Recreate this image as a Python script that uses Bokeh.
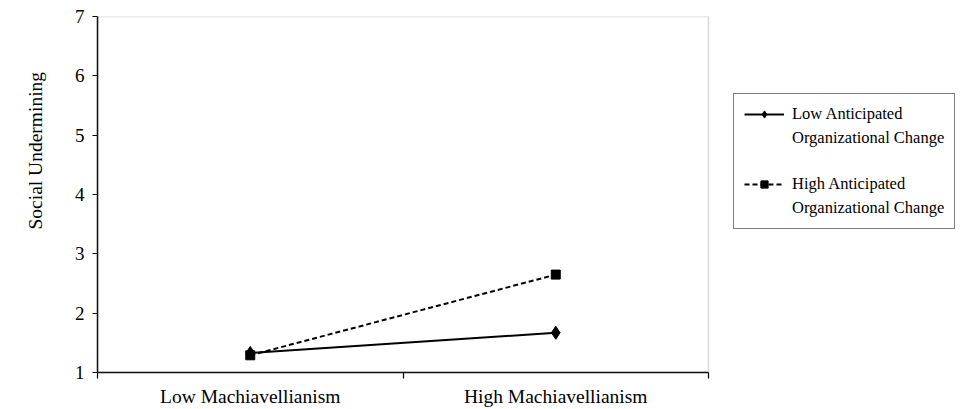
from bokeh.plotting import figure
from bokeh.models import FixedTicker, Legend, LegendItem, Range1d, BoxAnnotation, Title
from bokeh.embed import file_html
from bokeh.resources import INLINE

# ---- data ----
categories = ["Low Machiavellianism", "High Machiavellianism"]
low_aoc = [1.33, 1.67]
high_aoc = [1.29, 2.65]
y_ticks = [1, 2, 3, 4, 5, 6, 7]
series_names = ["Low Anticipated", "High Anticipated"]
series_sub = "Organizational Change"
y_title = "Social Undermining"

FONT = "Liberation Serif"
W, H = 960, 409
LEFT, TOP, PLOT_RIGHT, BOTTOM = 97, 16, 708, 36
FRAME_BOTTOM = H - BOTTOM
n = len(categories)
xs = [i + 0.5 for i in range(n)]
x_end = n * (W - LEFT) / (PLOT_RIGHT - LEFT)

p = figure(width=W, height=H, output_backend="svg", toolbar_location=None,
           x_range=Range1d(0, x_end), y_range=Range1d(1, 7),
           min_border_left=LEFT, min_border_right=0, min_border_top=TOP, min_border_bottom=BOTTOM)
p.background_fill_color = "white"
p.border_fill_color = "white"
p.outline_line_color = None
p.grid.visible = False

# plot box (top and right edges)
p.add_layout(BoxAnnotation(left=0, right=n, bottom=1, top=7, fill_alpha=0,
                           line_color="#808080", line_width=1.5))

# x axis
p.xaxis.bounds = (0, n)
p.xaxis.ticker = FixedTicker(ticks=xs, minor_ticks=list(range(n + 1)))
p.xaxis.major_label_overrides = {x: c for x, c in zip(xs, categories)}
p.xaxis.major_tick_line_color = None
p.xaxis.minor_tick_out = 6
p.xaxis.minor_tick_in = 0
p.xaxis.minor_tick_line_color = "black"
p.xaxis.minor_tick_line_width = 1.2
p.xaxis.axis_line_color = "black"
p.xaxis.axis_line_width = 1.5
p.xaxis.major_label_text_font = FONT
p.xaxis.major_label_text_font_size = "19.5px"
p.xaxis.major_label_text_color = "black"
p.xaxis.major_label_standoff = 7

# y axis
p.yaxis.ticker = FixedTicker(ticks=y_ticks, minor_ticks=[])
p.yaxis.major_tick_out = 5
p.yaxis.major_tick_in = 0
p.yaxis.major_tick_line_color = "black"
p.yaxis.major_tick_line_width = 1.2
p.yaxis.axis_line_color = "black"
p.yaxis.axis_line_width = 1.5
p.yaxis.major_label_text_font = FONT
p.yaxis.major_label_text_font_size = "19px"
p.yaxis.major_label_text_color = "black"
p.yaxis.major_label_standoff = 8

# y axis title, shifted up like the reference
p.add_layout(Title(text=y_title, align="left", offset=143, standoff=47, vertical_align="top",
                   text_font=FONT, text_font_size="19.5px", text_font_style="normal",
                   text_color="black"), "left")

# series
l1 = p.line(xs, low_aoc, line_color="black", line_width=2)
m1 = p.scatter(xs, low_aoc, marker="diamond", size=13, fill_color="black", line_color="black")
l2 = p.line(xs, high_aoc, line_color="black", line_width=2, line_dash="5 3")
m2 = p.scatter(xs, high_aoc, marker="square", size=9, fill_color="black", line_color="black")

items = [LegendItem(label=series_names[0], renderers=[l1, m1]),
         LegendItem(label=series_sub, renderers=[]),
         LegendItem(label=" ", renderers=[]),
         LegendItem(label=series_names[1], renderers=[l2, m2]),
         LegendItem(label=series_sub, renderers=[])]
legend = Legend(items=items, location=(733 - LEFT, FRAME_BOTTOM - 230))
legend.label_text_font = FONT
legend.label_text_font_size = "16.5px"
legend.label_text_color = "black"
legend.border_line_color = "black"
legend.border_line_width = 1
legend.background_fill_alpha = 1
legend.glyph_width = 40
legend.glyph_height = 18
legend.label_height = 18
legend.label_standoff = 8
legend.padding = 10
legend.spacing = 4
legend.margin = 0
p.add_layout(legend, "center")

open("out.html", "w").write(file_html(p, INLINE))
